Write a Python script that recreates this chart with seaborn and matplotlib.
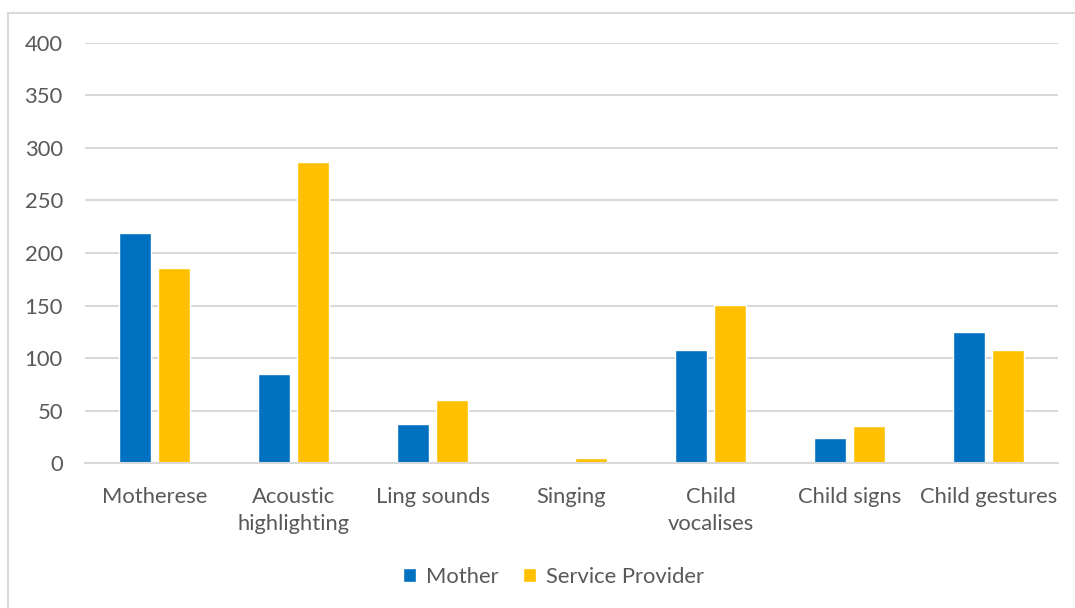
import numpy as np
import pandas as pd
import matplotlib
matplotlib.use("Agg")
import matplotlib.pyplot as plt
import seaborn as sns
from matplotlib.patches import Rectangle

categories = ["Motherese", "Acoustic\nhighlighting", "Ling sounds", "Singing",
              "Child\nvocalises", "Child signs", "Child gestures"]
mother = [219, 85, 37, 1, 108, 24, 125]
service_provider = [186, 287, 60, 5, 151, 35, 108]
series_names = ["Mother", "Service Provider"]
y_ticks = [0, 50, 100, 150, 200, 250, 300, 350, 400]

df = pd.DataFrame({
    "category": categories * 2,
    "value": mother + service_provider,
    "series": [series_names[0]] * len(categories) + [series_names[1]] * len(categories),
})

sns.set_theme(style="white")
plt.rcParams["font.family"] = ["Lato", "DejaVu Sans"]
text_color = "#595959"
grid_color = "#d9d9d9"
fs = 15.8

fig = plt.figure(figsize=(10.75, 6.08), dpi=100)
ax = fig.add_axes([85 / 1075, 1 - 463.3 / 608, (1058 - 85) / 1075, (463.3 - 42.7) / 608])

sns.barplot(data=df, x="category", y="value", hue="series", order=categories,
            hue_order=series_names, palette=["#0070C0", "#FFC000"],
            width=0.56, gap=0.2, ax=ax, saturation=1, legend=True, errorbar=None)

ax.set_ylim(0, 400)
ax.set_xlim(-0.5, len(categories) - 0.5)
ax.set_yticks(y_ticks)
ax.set_yticklabels([str(t) for t in y_ticks])
ax.yaxis.grid(True, color=grid_color, linewidth=1.5)
ax.set_axisbelow(True)
for s in ["top", "right", "left"]:
    ax.spines[s].set_visible(False)
ax.spines["bottom"].set_color(grid_color)
ax.spines["bottom"].set_linewidth(1.5)
ax.set_xlabel("")
ax.set_ylabel("")
ax.tick_params(axis="y", length=0, pad=16, labelsize=fs, labelcolor=text_color)
ax.tick_params(axis="x", length=0, pad=17, labelsize=fs, labelcolor=text_color)
for lbl in ax.get_xticklabels():
    lbl.set_linespacing(1.45)

handles, labels = ax.get_legend_handles_labels()
ax.legend_.remove()
fig.legend(handles, labels, loc="center", bbox_to_anchor=(553.5 / 1075, 1 - 577 / 608),
           ncol=2, frameon=False, fontsize=fs, labelcolor=text_color,
           handlelength=0.6, handleheight=0.6, handletextpad=0.45, columnspacing=1.1)

# outer chart border
fig.patches.append(Rectangle((8 / 1075, -0.1), 1.2, 1 - 13 / 608 + 0.1,
                             transform=fig.transFigure, fill=False,
                             edgecolor=grid_color, linewidth=1.5))

fig.savefig("out.png", dpi=100)
